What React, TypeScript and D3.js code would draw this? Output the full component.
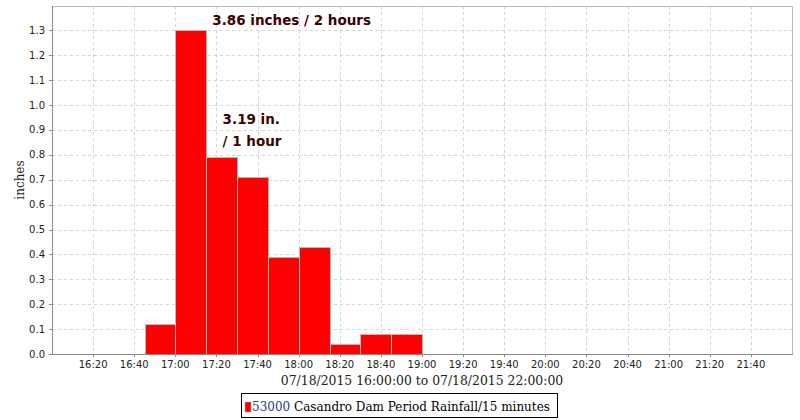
import React from "react";
import * as d3 from "d3";

const periodStarts = ["16:45", "17:00", "17:15", "17:30", "17:45", "18:00", "18:15", "18:30", "18:45"];
const rainfall = [0.12, 1.3, 0.79, 0.71, 0.39, 0.43, 0.04, 0.08, 0.08];
const yTicks = [0, 0.1, 0.2, 0.3, 0.4, 0.5, 0.6, 0.7, 0.8, 0.9, 1.0, 1.1, 1.2, 1.3];
const xTickLabels = ["16:20", "16:40", "17:00", "17:20", "17:40", "18:00", "18:20", "18:40", "19:00", "19:20", "19:40", "20:00", "20:20", "20:40", "21:00", "21:20", "21:40"];
const annotations = [
  { text: "3.86 inches / 2 hours", at: "17:18", value: 1.322 },
  { text: "3.19 in.", at: "17:23", value: 0.922 },
  { text: "/ 1 hour", at: "17:23", value: 0.834 },
];
const xTitle = "07/18/2015 16:00:00 to 07/18/2015 22:00:00";
const yTitle = "inches";
const legendId = "53000";
const legendName = " Casandro Dam Period Rainfall/15 minutes";

const W = 800, H = 420;
const M = { left: 52, right: 8, top: 6, bottom: 66 };
const pw = W - M.left - M.right;
const ph = H - M.top - M.bottom;

const t = (hm: string) => {
  const [h, m] = hm.split(":").map(Number);
  return new Date(2015, 6, 18, h, m);
};

export default function App() {
  const x = d3.scaleTime().domain([t("16:00"), t("22:00")]).range([M.left, M.left + pw]);
  const y = d3.scaleLinear().domain([0, 1.398]).range([M.top + ph, M.top]);
  const fmtY = d3.format(".1f");
  const bars = periodStarts.map((s, i) => {
    const x0 = x(t(s));
    const x1 = x(d3.timeMinute.offset(t(s), 15));
    return { x0, x1, v: rainfall[i] };
  });
  const grid = "#d4d4d4";
  const axisC = "#8a8a8a";
  const tickFont = "'DejaVu Sans', sans-serif";
  return (
    <svg width={W} height={H} style={{ position: "absolute", left: 0, top: 0, background: "#fff" }}>
      <rect x={0} y={0} width={W} height={H} fill="#fff" />
      {yTicks.map((v) => (
        <line key={"gy" + v} x1={M.left} x2={M.left + pw} y1={Math.round(y(v)) + 0.5} y2={Math.round(y(v)) + 0.5} stroke={grid} strokeDasharray="3,3" />
      ))}
      {xTickLabels.map((l) => (
        <line key={"gx" + l} x1={Math.round(x(t(l))) + 0.5} x2={Math.round(x(t(l))) + 0.5} y1={M.top} y2={M.top + ph} stroke={grid} strokeDasharray="3,3" />
      ))}
      <rect x={M.left + 0.5} y={M.top + 0.5} width={pw} height={ph} fill="none" stroke="#bdbdbd" />
      {bars.map((b, i) => (
        <rect key={i} x={Math.round(b.x0) + 0.5} y={Math.round(y(b.v)) + 0.5} width={Math.round(b.x1) - Math.round(b.x0)} height={Math.round(y(0)) - Math.round(y(b.v))} fill="#ff0000" stroke="#b8b8b8" />
      ))}
      <line x1={M.left + 0.5} x2={M.left + 0.5} y1={M.top} y2={M.top + ph + 1} stroke={axisC} />
      <line x1={M.left} x2={M.left + pw + 1} y1={M.top + ph + 0.5} y2={M.top + ph + 0.5} stroke={axisC} />
      {yTicks.map((v) => (
        <g key={"ty" + v}>
          <line x1={M.left - 3} x2={M.left} y1={Math.round(y(v)) + 0.5} y2={Math.round(y(v)) + 0.5} stroke={axisC} />
          <text x={M.left - 7} y={y(v) + 3.5} textAnchor="end" fontFamily={tickFont} fontSize={10} fill="#222">{fmtY(v)}</text>
        </g>
      ))}
      {xTickLabels.map((l) => (
        <g key={"tx" + l}>
          <line x1={Math.round(x(t(l))) + 0.5} x2={Math.round(x(t(l))) + 0.5} y1={M.top + ph} y2={M.top + ph + 3} stroke={axisC} />
          <text x={x(t(l))} y={M.top + ph + 14} textAnchor="middle" fontFamily={tickFont} fontSize={10} fill="#222">{d3.timeFormat("%H:%M")(t(l))}</text>
        </g>
      ))}
      <text x={M.left + pw / 2} y={385} textAnchor="middle" fontFamily="'DejaVu Serif', serif" fontSize={12.4} fill="#222">{xTitle}</text>
      <text transform={`translate(24,${M.top + ph / 2}) rotate(-90)`} textAnchor="middle" fontFamily="'DejaVu Serif', serif" fontSize={12} fill="#222">{yTitle}</text>
      {annotations.map((a, i) => (
        <text key={i} x={x(t(a.at))} y={y(a.value)} fontFamily="'DejaVu Sans', sans-serif" fontWeight="bold" fontSize={13.5} fill="#3d0000">{a.text}</text>
      ))}
      <rect x={241.5} y={393.5} width={316} height={24} fill="#fff" stroke="#000" />
      <rect x={245} y={402} width={6} height={10} fill="#ff0000" stroke="#b8b8b8" strokeWidth={0.5} />
      <text x={252} y={411} fontFamily="'DejaVu Serif', serif" fontSize={12} fill="#000">
        <tspan fill="#1a3a8a">{legendId}</tspan>
        <tspan>{legendName}</tspan>
      </text>
    </svg>
  );
}
